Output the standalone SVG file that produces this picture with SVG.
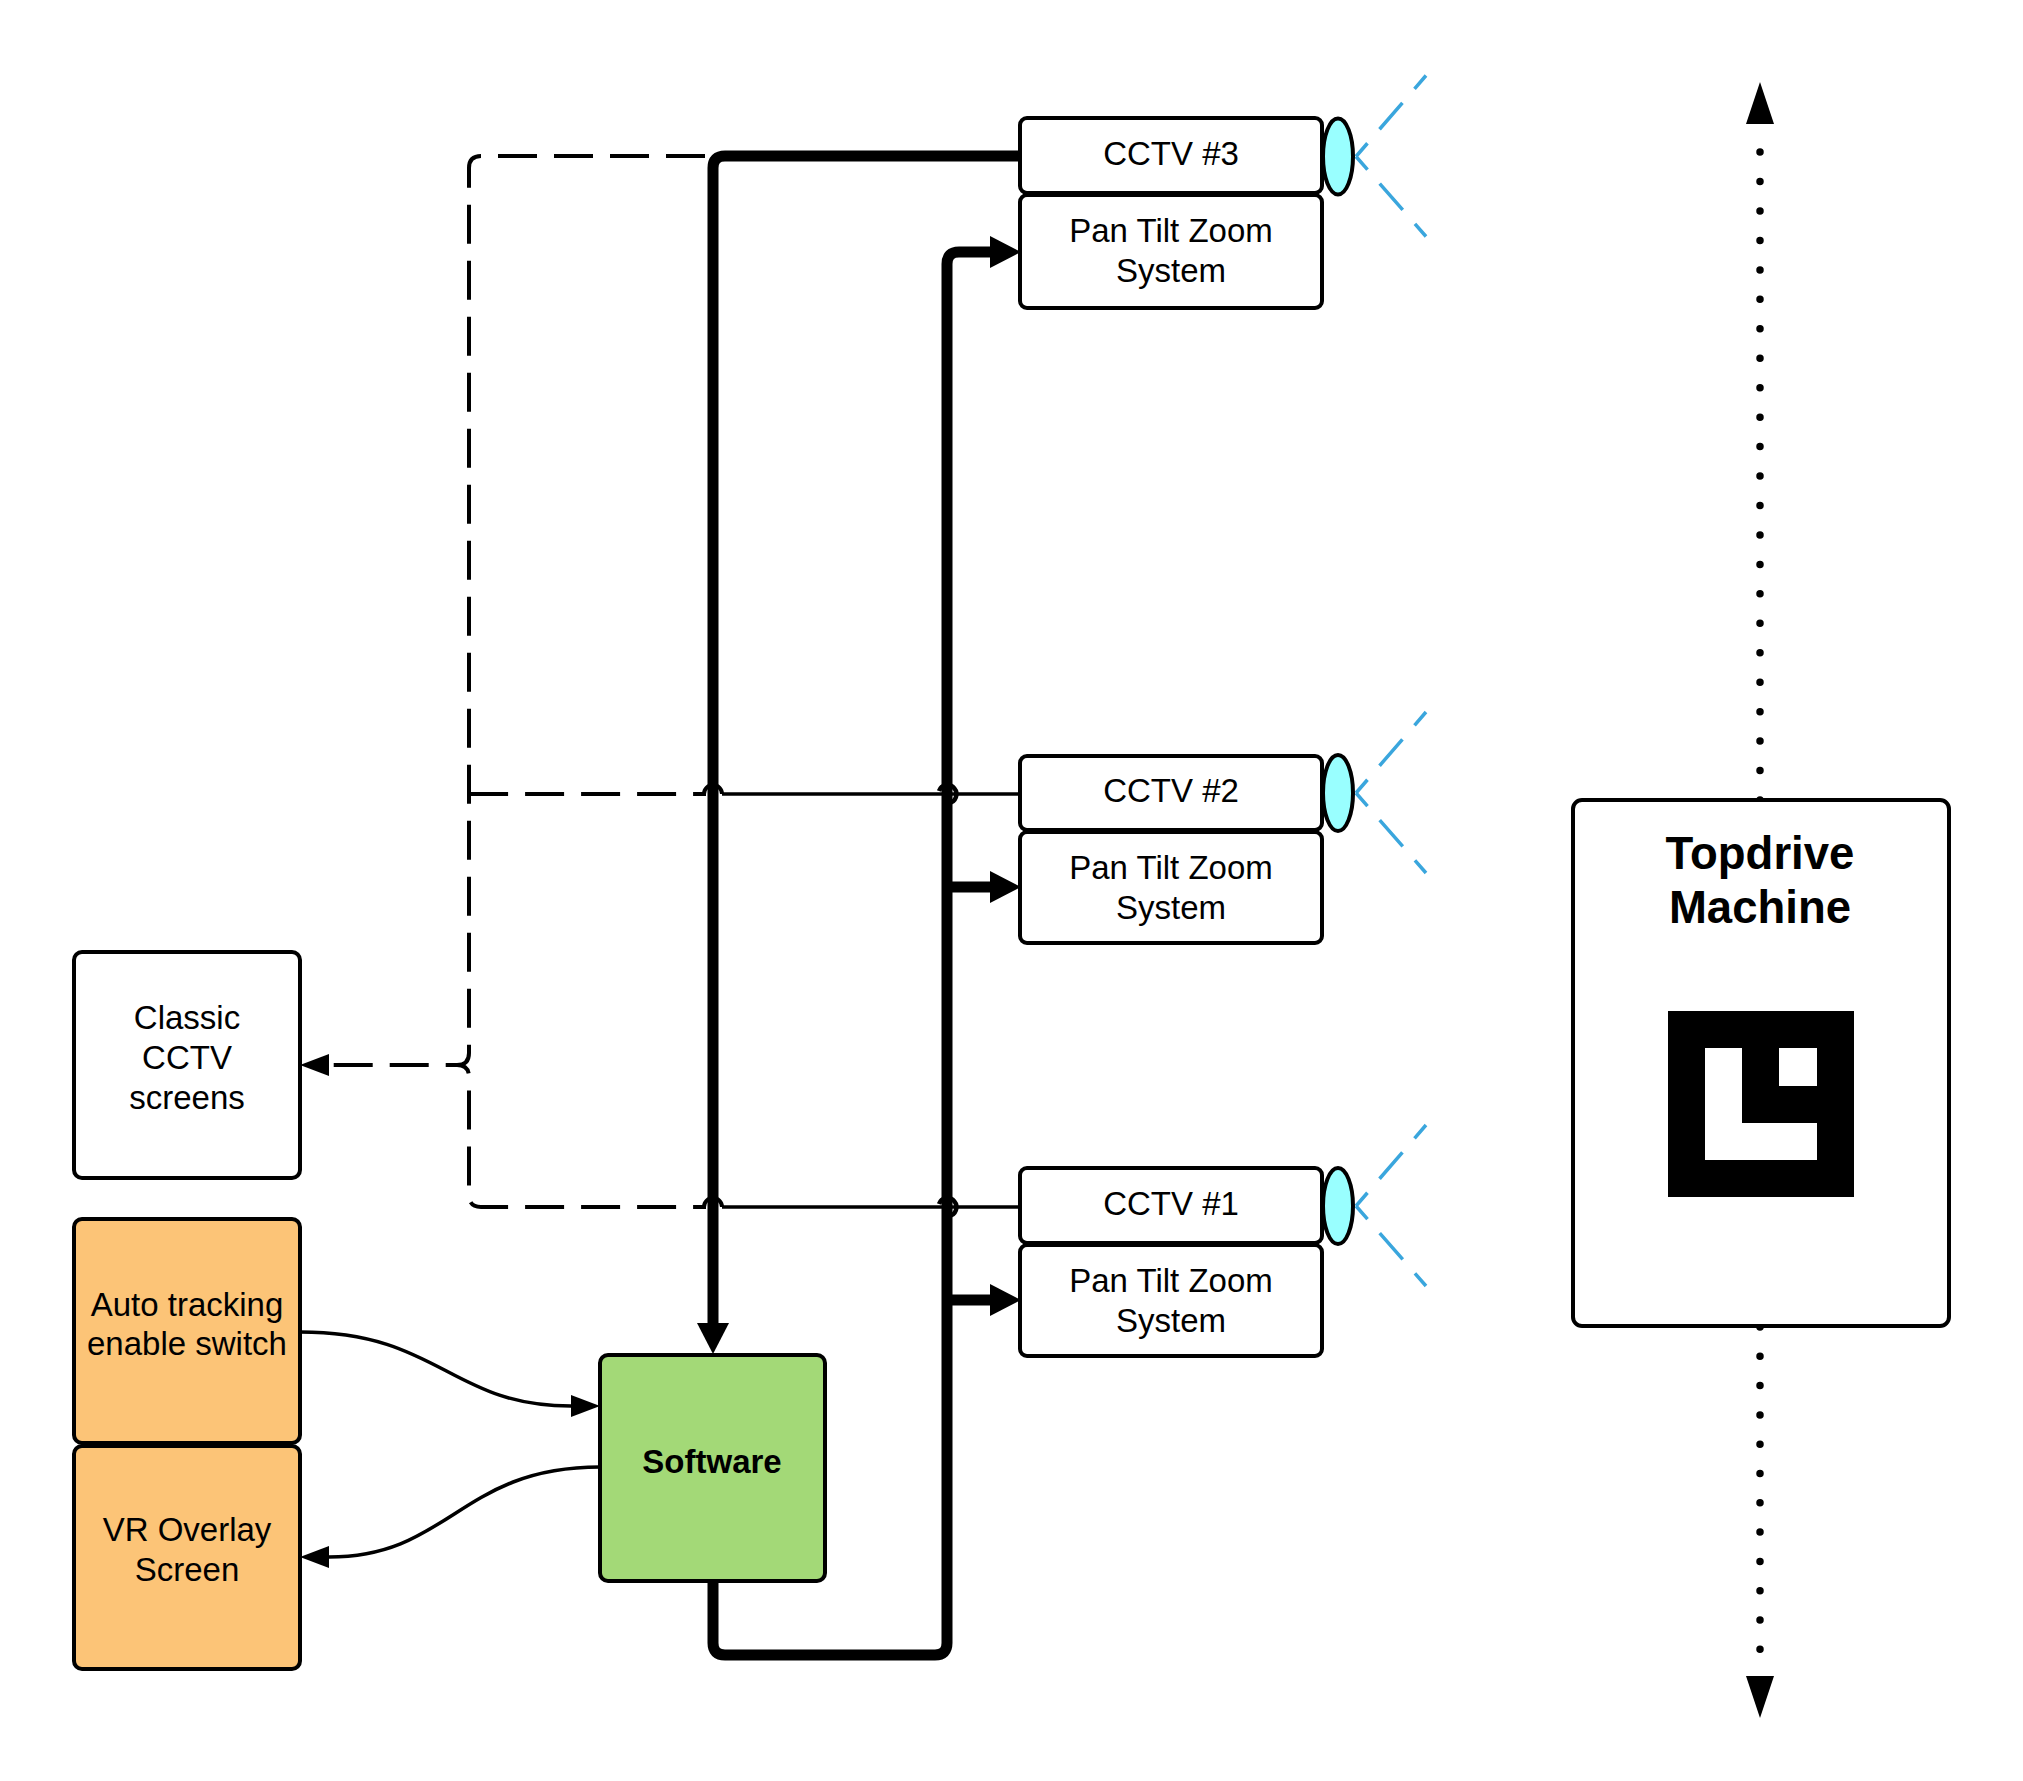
<svg xmlns="http://www.w3.org/2000/svg" width="2023" height="1781" viewBox="0 0 2023 1781">
<style>
.box{stroke:#000;stroke-width:4;}
.white{fill:#fff;}
.orange{fill:#FCC477;}
.green{fill:#A3D977;}
.t{font-family:"Liberation Sans",Arial,sans-serif;font-size:33px;text-anchor:middle;fill:#000;}
.b{font-weight:bold;}
.big{font-size:45.5px;}
.thick{fill:none;stroke:#000;stroke-width:11;stroke-linejoin:round;}
.thin{fill:none;stroke:#000;stroke-width:3.5;}
.hop{fill:none;stroke:#000;stroke-width:4.5;}
.dash{fill:none;stroke:#000;stroke-width:4;stroke-dasharray:39 17;}
.dot{fill:none;stroke:#000;stroke-width:7.5;stroke-linecap:round;}
.blue{fill:none;stroke:#3AA6DD;stroke-width:3.5;stroke-dasharray:35 18.5;stroke-dashoffset:17.5;}
.lens{fill:#99FFFF;stroke:#000;stroke-width:4;}
</style>
<defs>
<marker id="ah-thick" markerUnits="userSpaceOnUse" markerWidth="31" markerHeight="32" refX="0" refY="16" orient="auto" viewBox="0 0 31 32"><path d="M0,0 L31,16 L0,32 z" fill="#000"/></marker>
<marker id="ah-thin" markerUnits="userSpaceOnUse" markerWidth="29" markerHeight="22" refX="0" refY="11" orient="auto" viewBox="0 0 29 22"><path d="M0,0 L29,11 L0,22 z" fill="#000"/></marker>
<marker id="ah-dot" markerUnits="userSpaceOnUse" markerWidth="42" markerHeight="28" refX="0" refY="14" orient="auto" viewBox="0 0 42 28"><path d="M0,0 L42,14 L0,28 z" fill="#000"/></marker>
</defs>
<rect width="2023" height="1781" fill="#fff"/>

<g id="connectors">
  <path class="dash" d="M 705 156 H 481 Q 469 156 469 168 V 1053 Q 469 1065 457 1065 H 329" marker-end="url(#ah-thin)"/>
  <path class="dash" d="M 722 1207 A 9 9 0 0 0 704 1207 H 481 Q 469 1207 469 1195 V 1077 Q 469 1065 457 1065"/>
  <path class="dash" d="M 722 794 A 9 9 0 0 0 704 794 H 469"/>
  <path class="thick" d="M 1020 156 H 725 Q 713 156 713 168 V 1323" marker-end="url(#ah-thick)"/>
  <path class="thick" d="M 713 1581 V 1643 Q 713 1655 725 1655 H 935 Q 947 1655 947 1643 V 264 Q 947 252 959 252 H 990" marker-end="url(#ah-thick)"/>
  <path class="thick" d="M 947 887 H 990" marker-end="url(#ah-thick)"/>
  <path class="thick" d="M 947 1300 H 990" marker-end="url(#ah-thick)"/>
  <path class="thin" d="M 1020 794 H 722"/>
  <path class="hop" d="M 939 791 A 9 9 0 1 1 949 803"/>
  <path class="thin" d="M 1020 1207 H 722"/>
  <path class="hop" d="M 939 1204 A 9 9 0 1 1 949 1216"/>
  <path class="thin" d="M 300 1332 C 440 1332 450 1406 571 1406" marker-end="url(#ah-thin)"/>
  <path class="thin" d="M 600 1467 C 460 1467 450 1557 329 1557" marker-end="url(#ah-thin)"/>
  <path class="dot" d="M 1760 800 V 124" stroke-dasharray="0 29.45" marker-end="url(#ah-dot)"/>
  <path class="dot" d="M 1760 1327 V 1676" stroke-dasharray="0 29.3" marker-end="url(#ah-dot)"/>
  <path class="blue" d="M 1356 156.5 L 1426 75.5"/>
  <path class="blue" d="M 1356 156.5 L 1426 236.5"/>
  <path class="blue" d="M 1356 793 L 1426 712"/>
  <path class="blue" d="M 1356 793 L 1426 873"/>
  <path class="blue" d="M 1356 1206 L 1426 1125"/>
  <path class="blue" d="M 1356 1206 L 1426 1286"/>
</g>

<g id="cctv3">
  <rect class="box white" x="1020" y="118" width="302" height="75" rx="7"/>
  <text class="t" x="1171" y="165">CCTV #3</text>
  <ellipse class="lens" cx="1338" cy="156.5" rx="15" ry="38"/>
</g>
<g id="ptz3">
  <rect class="box white" x="1020" y="195" width="302" height="113" rx="7"/>
  <text class="t" x="1171" y="242">Pan Tilt Zoom</text>
  <text class="t" x="1171" y="282">System</text>
</g>
<g id="cctv2">
  <rect class="box white" x="1020" y="756" width="302" height="74" rx="7"/>
  <text class="t" x="1171" y="802">CCTV #2</text>
  <ellipse class="lens" cx="1338" cy="793" rx="15" ry="38"/>
</g>
<g id="ptz2">
  <rect class="box white" x="1020" y="832" width="302" height="111" rx="7"/>
  <text class="t" x="1171" y="879">Pan Tilt Zoom</text>
  <text class="t" x="1171" y="919">System</text>
</g>
<g id="cctv1">
  <rect class="box white" x="1020" y="1168" width="302" height="75" rx="7"/>
  <text class="t" x="1171" y="1215">CCTV #1</text>
  <ellipse class="lens" cx="1338" cy="1206" rx="15" ry="38"/>
</g>
<g id="ptz1">
  <rect class="box white" x="1020" y="1245" width="302" height="111" rx="7"/>
  <text class="t" x="1171" y="1292">Pan Tilt Zoom</text>
  <text class="t" x="1171" y="1332">System</text>
</g>
<g id="classic">
  <rect class="box white" x="74" y="952" width="226" height="226" rx="8"/>
  <text class="t" x="187" y="1029">Classic</text>
  <text class="t" x="187" y="1069">CCTV</text>
  <text class="t" x="187" y="1109">screens</text>
</g>
<g id="autotracking">
  <rect class="box orange" x="74" y="1219" width="226" height="224" rx="8"/>
  <text class="t" x="187" y="1316">Auto tracking</text>
  <text class="t" x="187" y="1355">enable switch</text>
</g>
<g id="vroverlay">
  <rect class="box orange" x="74" y="1446" width="226" height="223" rx="8"/>
  <text class="t" x="187" y="1541">VR Overlay</text>
  <text class="t" x="187" y="1581">Screen</text>
</g>
<g id="software">
  <rect class="box green" x="600" y="1355" width="225" height="226" rx="8"/>
  <text class="t b" x="712" y="1473">Software</text>
</g>
<g id="topdrive">
  <rect class="box white" x="1573" y="800" width="376" height="526" rx="9"/>
  <text class="t b big" x="1760" y="869">Topdrive</text>
  <text class="t b big" x="1760" y="923">Machine</text>
  <rect x="1668" y="1011" width="186" height="186" fill="#000"/>
  <rect x="1705" y="1048" width="37" height="112" fill="#fff"/>
  <rect x="1705" y="1123" width="112" height="37" fill="#fff"/>
  <rect x="1779" y="1048" width="38" height="38" fill="#fff"/>
</g>
</svg>
